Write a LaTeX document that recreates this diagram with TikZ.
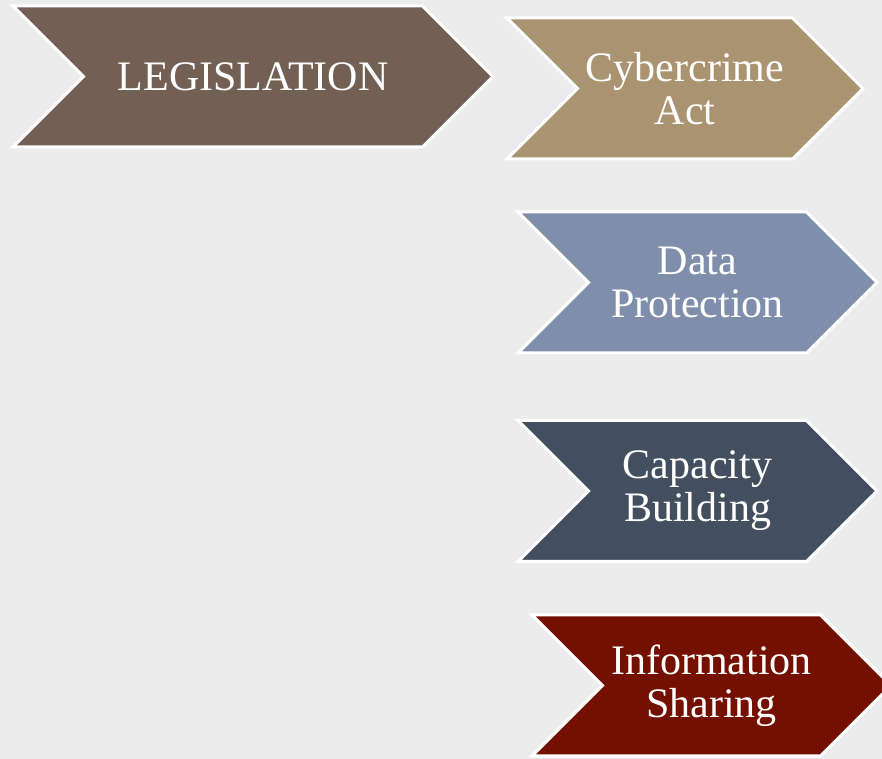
\documentclass[tikz,border=0pt]{standalone}
\usepackage{fontspec}
\setmainfont{Liberation Serif}
\usetikzlibrary{shapes.symbols}
\definecolor{paper}{RGB}{236,236,236}
\definecolor{legbrown}{RGB}{114,96,85}
\definecolor{acttan}{RGB}{170,147,112}
\definecolor{datablue}{RGB}{127,142,170}
\definecolor{slate}{RGB}{67,79,94}
\definecolor{infored}{RGB}{116,16,0}
\tikzset{
  chevron/.style={signal, signal from=west, signal to=east, draw=white,
    line width=3pt, text=white, align=center, inner sep=0pt,
    minimum height=141pt, font=\fontsize{42}{43}\selectfont}
}

\begin{document}
\begin{tikzpicture}[x=1pt, y=1pt]
  % paper background
  \fill[paper] (0,0) rectangle (882,759);
  \useasboundingbox (0,0) rectangle (882,759);
  \node[chevron, fill=legbrown, minimum width=480pt] (leg) at (253,682.5) {LEGISLATION};
  % branches on the right
  \node[chevron, fill=acttan, minimum width=356pt] (act) at (685,670.5) {Cybercrime\\Act};
  \node[chevron, fill=datablue, minimum width=359pt] (data) at (697.5,476.5) {Data\\Protection};
  \node[chevron, fill=slate, minimum width=359pt] (cap) at (697.5,268) {Capacity\\Building};
  \node[chevron, fill=infored, minimum width=359pt] (info) at (711.5,73.5) {Information\\Sharing};
\end{tikzpicture}
\end{document}
